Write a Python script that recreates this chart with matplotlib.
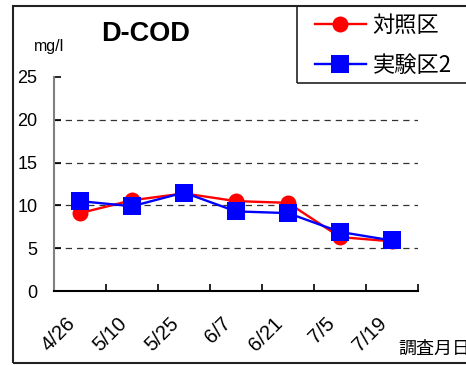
import numpy as np
import matplotlib.pyplot as plt
from matplotlib.patches import Rectangle

plt.rcParams['font.family'] = ['Liberation Sans', 'Noto Sans CJK JP', 'DejaVu Sans']

# Survey dates and D-COD readings (mg/l)
dates = ['4/26', '5/10', '5/25', '6/7', '6/21', '7/5', '7/19']
control = [9.1, 10.6, 11.4, 10.5, 10.3, 6.3, 5.8]
trial2 = [10.5, 9.9, 11.5, 9.3, 9.1, 6.9, 5.9]
series_names = ['対照区', '実験区2']

W, H = 466, 365
fig = plt.figure(figsize=(W / 100, H / 100), dpi=100)
fig.patch.set_facecolor('white')

# plot area in pixel units
left, right, top, bottom = 54, 418, 77, 291
ax = fig.add_axes([left / W, 1 - bottom / H, (right - left) / W, (bottom - top) / H])

x = np.arange(len(dates))
l1, = ax.plot(x, control, color='red', lw=1.7, marker='o', markersize=11.5,
              markeredgewidth=0, zorder=3)
l2, = ax.plot(x, trial2, color='blue', lw=1.7, marker='s', markersize=12.5,
              markeredgewidth=0, zorder=4)

ax.set_xlim(-0.5, len(dates) - 0.5)
ax.set_ylim(0, 25)
ax.set_yticks([0, 5, 10, 15, 20, 25])
ax.set_xticks(np.arange(len(dates) + 1) - 0.5)
ax.set_xticklabels([])
ax.tick_params(axis='both', direction='in', length=5, width=1.2, labelsize=13)
ax.tick_params(axis='y', pad=12)
for y in [5, 10, 15, 20]:
    ax.axhline(y, color='#333333', lw=0.9, ls=(0, (5, 4)), zorder=1)

for s in ['top', 'right']:
    ax.spines[s].set_visible(False)
ax.spines['left'].set_color('#808080')
ax.spines['left'].set_linewidth(1.5)
ax.spines['bottom'].set_linewidth(1.5)

# rotated date labels under each category
for i, d in enumerate(dates):
    ax.text(i - 0.15, -3.4, d, rotation=45, rotation_mode='anchor',
            ha='right', va='center', fontsize=14.5)

fig.text(398 / W, 1 - 349 / H, '調査月日', fontsize=13, ha='left', va='center',
         family=['Noto Sans CJK JP'])
fig.text(101 / W, 1 - 34 / H, 'D-COD', fontsize=19.5, fontweight='bold',
         ha='left', va='center')
fig.text(34 / W, 1 - 47 / H, 'mg/l', fontsize=11.5, ha='left', va='center')

# outer chart frame and legend box
fig.add_artist(Rectangle((13 / W, 1 - 363 / H), 470 / W, 357 / H,
                         transform=fig.transFigure, fill=False,
                         edgecolor='#222222', lw=1.5))
fig.add_artist(Rectangle((297 / W, 1 - 83 / H), 180 / W, 77 / H,
                         transform=fig.transFigure, fill=False,
                         edgecolor='#222222', lw=1.2))
leg = fig.legend([l1, l2], series_names, loc='upper left',
                 bbox_to_anchor=(306 / W, 1 - 5 / H), borderaxespad=0,
                 frameon=False, handlelength=2.3, labelspacing=0.75,
                 handletextpad=0.3,
                 prop={'family': ['Noto Sans CJK JP'], 'size': 16})

fig.savefig('out.png', dpi=100)
